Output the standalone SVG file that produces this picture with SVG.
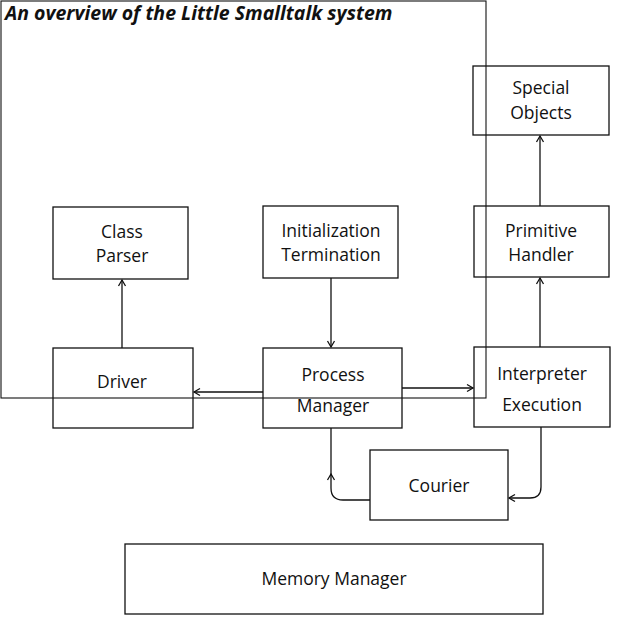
<svg xmlns="http://www.w3.org/2000/svg" width="622" height="626" viewBox="0 0 622 626">
<defs>
<style>
.box{fill:none;stroke:#111;stroke-width:1.3}
.t{font-family:"Open Sans","Noto Sans",sans-serif;font-size:17.5px;fill:#111;text-anchor:middle}
.c{fill:none;stroke:#111;stroke-width:1.3}
.title{font-family:"Open Sans","Noto Sans",sans-serif;font-size:19.5px;font-weight:bold;font-style:italic;fill:#111}
</style>
<marker id="a" markerWidth="10" markerHeight="10" refX="8" refY="5" orient="auto" markerUnits="userSpaceOnUse">
<polyline points="2,1.5 8,5 2,8.5" fill="none" stroke="#111" stroke-width="1.3"/>
</marker>
</defs>
<rect width="622" height="626" fill="#fff"/>
<rect id="frame" x="1" y="1" width="485" height="397" fill="none" stroke="#111" stroke-width="1.1"/>
<text class="title" x="5" y="20">An overview of the Little Smalltalk system</text>
<g id="special-objects"><rect class="box" x="473" y="66" width="136" height="69"/><text class="t" x="541" y="94">Special</text><text class="t" x="541" y="118.5">Objects</text></g>
<g id="class-parser"><rect class="box" x="53" y="207" width="135" height="72"/><text class="t" x="122" y="237.5">Class</text><text class="t" x="122" y="262">Parser</text></g>
<g id="init-term"><rect class="box" x="263" y="206" width="135" height="72"/><text class="t" x="331" y="236.5">Initialization</text><text class="t" x="331" y="261">Termination</text></g>
<g id="primitive-handler"><rect class="box" x="474" y="206" width="135" height="71"/><text class="t" x="541" y="236.5">Primitive</text><text class="t" x="541" y="261">Handler</text></g>
<g id="driver"><rect class="box" x="53" y="348" width="140" height="80"/><text class="t" x="122" y="388">Driver</text></g>
<g id="process-manager"><rect class="box" x="263" y="348" width="139" height="80"/><text class="t" x="333" y="381">Process</text><text class="t" x="333" y="412">Manager</text></g>
<g id="interpreter"><rect class="box" x="474" y="347" width="136" height="80"/><text class="t" x="542" y="380">Interpreter</text><text class="t" x="542" y="411">Execution</text></g>
<g id="courier"><rect class="box" x="370" y="450" width="138" height="70"/><text class="t" x="439" y="492">Courier</text></g>
<g id="memory-manager"><rect class="box" x="125" y="544" width="418" height="70"/><text class="t" x="334" y="585">Memory Manager</text></g>
<g id="connectors">
<line class="c" x1="122" y1="348" x2="122" y2="280" marker-end="url(#a)"/>
<line class="c" x1="331" y1="278" x2="331" y2="347" marker-end="url(#a)"/>
<line class="c" x1="263" y1="392" x2="194" y2="392" marker-end="url(#a)"/>
<line class="c" x1="402" y1="388" x2="473" y2="388" marker-end="url(#a)"/>
<line class="c" x1="540" y1="347" x2="540" y2="278" marker-end="url(#a)"/>
<line class="c" x1="540" y1="206" x2="540" y2="136" marker-end="url(#a)"/>
<path class="c" d="M370,500 L343,500 Q331,500 331,488 L331,474" marker-end="url(#a)"/>
<line class="c" x1="331" y1="476" x2="331" y2="428"/>
<path class="c" d="M541,427 L541,487 Q541,498 530,498 L509,498" marker-end="url(#a)"/>
</g>
</svg>
